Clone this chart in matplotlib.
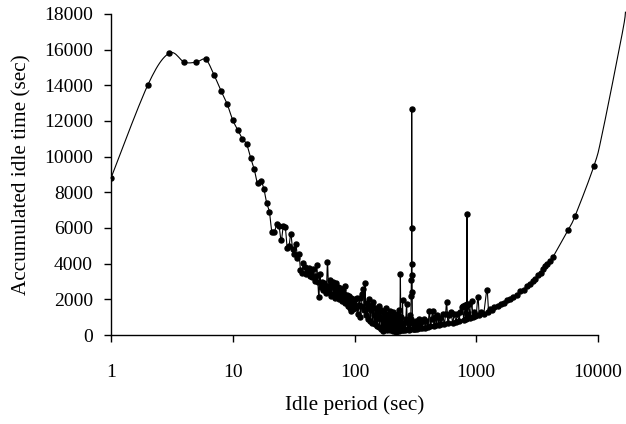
import numpy as np
from matplotlib import pyplot as plt

plt.rcParams['font.family'] = ['Liberation Serif', 'DejaVu Serif']

# idle period 1..19 sec (smooth part)
x_head = [1, 2, 3, 4, 5, 6, 7, 8, 9, 10, 11, 12, 13, 14, 15, 16, 17, 18, 19]
y_head = [8800, 14000, 15800, 15300, 15300, 15450, 14600, 13700, 12950, 12050,
          11500, 11000, 10700, 9950, 9300, 8500, 8650, 8200, 7400]

# idle period 20..100 sec, one point per second
x_mid = list(range(20, 101))
y_mid = [6900, 5750, 5800, 6200, 6100, 5300, 6100, 6050, 4900, 5000,
         5650, 4800, 4550, 5100, 4300, 4550, 3650, 3500, 4050, 3800,
         3400, 3550, 3750, 3300, 3450, 3250, 3700, 3050, 3300, 3900,
         2950, 2150, 3400, 2700, 3000, 2500, 2900, 2650, 2350, 2750,
         4100, 2700, 2400, 3100, 2200, 2800, 3000, 2300, 2650, 2100,
         2900, 2500, 2200, 2700, 2000, 2500, 2650, 2050, 2400, 1900,
         2500, 2100, 2300, 1800, 2750, 2000, 1850, 2250, 1600, 2000,
         2200, 1500, 1900, 2100, 1350, 1800, 2000, 1450, 1850, 1600,
         2000]

# idle period 102..250 sec, every 2 sec
x_cloud = list(range(102, 251, 2))
y_cloud = [1500, 2100, 1200, 1700, 2100, 1000, 1600, 2300, 2600, 1400,
           2900, 1100, 1800, 900, 1500, 2000, 800, 1400, 1700, 700,
           1850, 1100, 600, 1500, 900, 1300, 500, 1200, 1600, 450,
           1000, 1400, 350, 900, 240, 1300, 700, 400, 1100, 600,
           1500, 300, 900, 1200, 400, 800, 1350, 300, 700, 1000,
           350, 600, 1300, 250, 800, 500, 1100, 300, 700, 185,
           900, 450, 1200, 300, 650, 1400, 250, 800, 3400, 500,
           1000, 300, 700, 1960, 350]

# idle period 252 sec and up
x_tail = [252, 256, 260, 264, 268, 272, 276, 280, 284, 288,
          290, 292, 293, 294, 295, 296, 297, 298, 299, 300,
          302, 306, 310, 315, 320, 325, 330, 335, 340, 345,
          350, 360, 370, 380, 390, 400, 412, 420, 430, 438,
          450, 460, 470, 480, 490, 500, 515, 530, 545, 560,
          571, 585, 600, 621, 640, 660, 680, 700, 720, 740,
          760, 773, 790, 810, 825, 832, 836, 839, 842, 846,
          850, 870, 890, 916, 940, 960, 980, 1000, 1032, 1060,
          1100, 1150, 1224, 1260, 1300, 1350, 1400, 1500, 1600, 1700,
          1800, 1900, 2000, 2150, 2300, 2450, 2600, 2750, 2900, 3050,
          3200, 3400, 3538, 3700, 3843, 4000, 4277, 5646, 6475, 9270,
          10840, 15800, 16800]
y_tail = [300, 700, 280, 900, 1720, 320, 800, 300, 1100, 350,
          900, 2200, 3100, 3960, 12670, 5980, 3350, 2400, 700, 330,
          650, 340, 700, 350, 800, 360, 650, 380, 900, 390,
          750, 400, 900, 420, 800, 450, 1330, 480, 900, 1360,
          520, 1000, 540, 1100, 560, 950, 600, 1150, 620, 1200,
          1830, 660, 1100, 1310, 700, 1150, 740, 1200, 780, 1300,
          1550, 1640, 850, 1700, 900, 1200, 1700, 6770, 1750, 950,
          1100, 1750, 950, 1920, 1000, 1300, 1050, 1100, 2130, 1120,
          1300, 1200, 2500, 1300, 1450, 1420, 1550, 1600, 1750, 1800,
          1950, 2000, 2150, 2250, 2450, 2550, 2750, 2850, 3050, 3150,
          3350, 3500, 3680, 3850, 3960, 4150, 4390, 5870, 6670, 9490,
          11300, 16900, 18100]

x = np.array(x_head + x_mid + x_cloud + x_tail, dtype=float)
y = np.array(y_head + y_mid + y_cloud + y_tail, dtype=float)


def smooth_line(xs, ys, steps=12):
    # spreadsheet-style smoothed line: bezier through each point, in log-x space
    lx = np.log10(xs)
    n = len(lx)
    t = np.linspace(0, 1, steps, endpoint=False)
    out_x, out_y = [], []
    for i in range(n - 1):
        p0 = max(i - 1, 0)
        p3 = min(i + 2, n - 1)
        c1x = lx[i] + (lx[i + 1] - lx[p0]) / 6
        c1y = ys[i] + (ys[i + 1] - ys[p0]) / 6
        c2x = lx[i + 1] - (lx[p3] - lx[i]) / 6
        c2y = ys[i + 1] - (ys[p3] - ys[i]) / 6
        a, b, c, d = (1 - t) ** 3, 3 * t * (1 - t) ** 2, 3 * t ** 2 * (1 - t), t ** 3
        out_x.append(a * lx[i] + b * c1x + c * c2x + d * lx[i + 1])
        out_y.append(a * ys[i] + b * c1y + c * c2y + d * ys[i + 1])
    out_x.append([lx[-1]])
    out_y.append([ys[-1]])
    return 10 ** np.concatenate(out_x), np.concatenate(out_y)


fig = plt.figure(figsize=(6.26, 4.24), dpi=100)
ax = fig.add_axes([0.1773, 0.2099, 0.778, 0.7571])

sx, sy = smooth_line(x, y)
ax.plot(sx, sy, color="black", linewidth=0.8, clip_on=False, zorder=2)
shown = x <= 10000
ax.plot(x[shown], y[shown], linestyle="none", marker="o", markersize=3.6,
        color="black", zorder=3)

ax.set_xscale("log")
ax.set_xlim(1, 10000)
ax.set_ylim(0, 18000)
ax.set_xticks([1, 10, 100, 1000, 10000])
ax.set_xticklabels(["1", "10", "100", "1000", "10000"])
ax.xaxis.set_minor_locator(plt.NullLocator())
ax.set_yticks(range(0, 18001, 2000))

for side in ["top", "right"]:
    ax.spines[side].set_visible(False)
for side in ["left", "bottom"]:
    ax.spines[side].set_linewidth(1.0)

ax.tick_params(axis="y", direction="out", length=5, width=1, pad=8, labelsize=14)
ax.tick_params(axis="x", direction="out", length=5, width=1, pad=16, labelsize=14)

ax.set_xlabel("Idle period (sec)", fontsize=15.3, labelpad=10)
ax.set_ylabel("Accumulated idle time (sec)", fontsize=15.3, labelpad=9)

fig.savefig("out.png", dpi=100)
